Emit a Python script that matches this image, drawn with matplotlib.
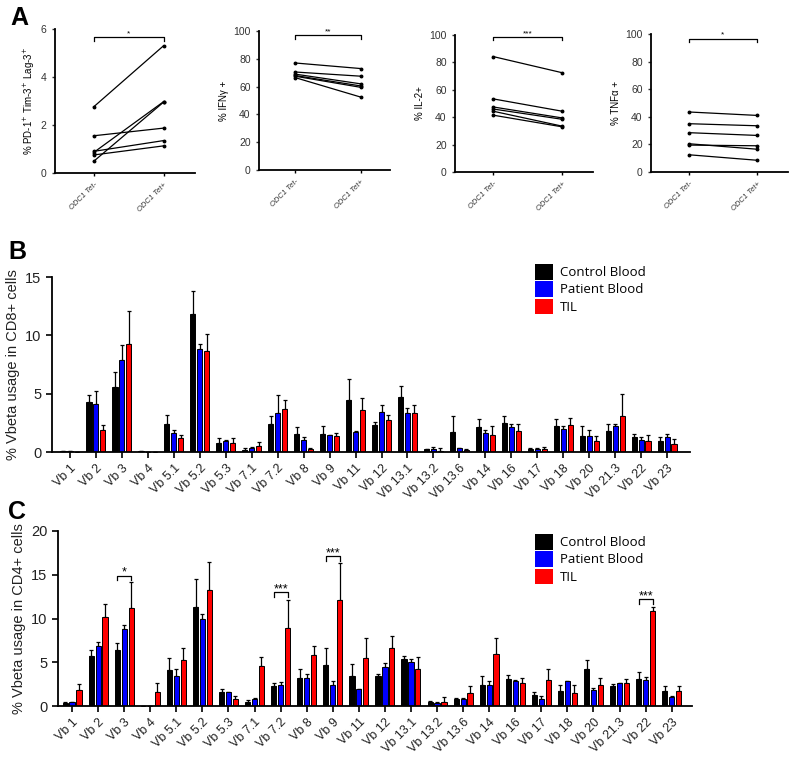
import numpy as np
import matplotlib
matplotlib.use("Agg")
import matplotlib.pyplot as plt
from matplotlib.patches import Patch

plt.rcParams['font.family'] = ['Liberation Sans', 'DejaVu Sans']

# ---- panel A : paired Tet- / Tet+ values (6 donors) ----
groups_a = ["ODC1 Tet-", "ODC1 Tet+"]
pd1_neg = [2.75, 1.55, 0.9, 0.85, 0.75, 0.48]
pd1_pos = [5.3, 1.87, 1.35, 2.97, 1.13, 2.95]
ifng_neg = [77, 70.5, 69, 68, 67.5, 66.5]
ifng_pos = [73, 67.5, 62, 60.5, 59.5, 52.5]
il2_neg = [84.3, 53.4, 47.5, 46, 44.4, 41.5]
il2_pos = [72.5, 44.4, 39.5, 38.5, 33.5, 33]
tnf_neg = [43.5, 35, 28.5, 20.5, 19.5, 12.5]
tnf_pos = [41, 33.5, 26.5, 16.5, 19, 8.5]

# ---- panels B/C : Vbeta usage ----
vb_labels = ["Vb 1", "Vb 2", "Vb 3", "Vb 4", "Vb 5.1", "Vb 5.2", "Vb 5.3", "Vb 7.1",
             "Vb 7.2", "Vb 8", "Vb 9", "Vb 11", "Vb 12", "Vb 13.1", "Vb 13.2", "Vb 13.6",
             "Vb 14", "Vb 16", "Vb 17", "Vb 18", "Vb 20", "Vb 21.3", "Vb 22", "Vb 23"]
series_names = ["Control Blood", "Patient Blood", "TIL"]

cd8_control = [0.05, 4.3, 5.6, 0.05, 2.4, 11.8, 0.77, 0.2, 2.4, 1.57, 1.57, 4.43,
               2.34, 4.71, 0.23, 1.71, 2.11, 2.51, 0.23, 2.2, 1.37, 1.77, 1.29, 0.94]
cd8_control_sem = [0.02, 0.6, 1.3, 0.0, 0.8, 2.0, 0.43, 0.15, 0.7, 0.57, 0.63, 1.87,
                   0.26, 0.99, 0.05, 1.35, 0.72, 0.55, 0.1, 0.6, 0.86, 0.6, 0.28, 0.35]
cd8_patient = [0.05, 4.09, 7.86, 0.0, 1.66, 8.86, 0.94, 0.37, 3.34, 1.06, 1.43, 1.71,
               3.43, 3.34, 0.23, 0.31, 1.66, 2.11, 0.23, 1.97, 1.37, 2.2, 1.06, 1.29]
cd8_patient_sem = [0.02, 1.11, 1.34, 0.0, 0.24, 0.44, 0.11, 0.06, 1.56, 0.24, 0.07, 0.06,
                   0.57, 0.43, 0.2, 0.03, 0.24, 0.29, 0.12, 0.23, 0.53, 0.17, 0.23, 0.28]
cd8_til = [0.0, 1.86, 9.29, 0.0, 1.2, 8.66, 0.77, 0.49, 3.69, 0.23, 1.37, 3.57,
           2.71, 3.34, 0.1, 0.17, 1.49, 1.77, 0.23, 2.31, 0.94, 3.06, 0.94, 0.66]
cd8_til_sem = [0.0, 0.44, 2.81, 0.0, 0.3, 1.44, 0.43, 0.37, 0.81, 0.11, 0.29, 1.03,
               0.43, 0.66, 0.24, 0.05, 0.74, 0.63, 0.17, 0.63, 0.43, 1.94, 0.55, 0.48]

cd4_control = [0.38, 5.74, 6.39, 0.05, 4.07, 11.29, 1.56, 0.49, 2.28, 3.16, 4.64, 3.42,
               3.42, 5.32, 0.49, 0.8, 2.43, 3.12, 1.25, 1.71, 4.18, 2.28, 3.08, 1.71]
cd4_control_sem = [0.12, 0.65, 0.76, 0.0, 1.37, 3.27, 0.44, 0.19, 0.31, 1.06, 1.94, 1.33,
                   0.23, 0.38, 0.08, 0.07, 1.03, 0.42, 0.38, 0.69, 1.07, 0.23, 0.84, 0.57]
cd4_patient = [0.42, 6.84, 8.78, 0.0, 3.46, 9.89, 1.56, 0.76, 2.4, 3.23, 2.4, 1.9,
               4.49, 5.06, 0.38, 0.8, 2.43, 2.85, 0.84, 2.81, 1.83, 2.59, 2.93, 1.06]
cd4_patient_sem = [0.05, 0.5, 0.52, 0.0, 0.74, 0.57, 0.0, 0.11, 0.3, 0.42, 0.45, 0.08,
                   0.38, 0.3, 0.04, 0.07, 0.42, 0.12, 0.34, 0.08, 0.26, 0.07, 0.34, 0.08]
cd4_til = [1.79, 10.19, 11.25, 1.6, 5.25, 13.23, 0.84, 4.6, 8.97, 5.78, 12.09, 5.44,
           6.58, 4.22, 0.46, 1.44, 6.0, 2.66, 2.97, 1.52, 2.4, 2.66, 10.87, 1.71]
cd4_til_sem = [0.68, 1.51, 2.95, 0.98, 1.33, 3.27, 0.3, 1.03, 3.2, 1.1, 4.3, 2.35,
               1.44, 1.41, 0.53, 0.84, 1.72, 0.57, 1.25, 0.88, 0.83, 0.38, 0.46, 0.57]

# significance in C: (category, bracket height, label)
cd4_sig = [("Vb 3", 14.9, "*"), ("Vb 7.2", 13.0, "***"), ("Vb 9", 17.1, "***"), ("Vb 22", 12.2, "***")]

colors = ["#000000", "#0000ff", "#ff0000"]

fig = plt.figure(figsize=(8, 7.65), dpi=100)
W, H = 800.0, 765.0


def px_axes(left, top, right, bottom):
    return fig.add_axes([left / W, 1 - bottom / H, (right - left) / W, (bottom - top) / H])


def style(ax):
    for s in ["top", "right"]:
        ax.spines[s].set_visible(False)
    for s in ["left", "bottom"]:
        ax.spines[s].set_linewidth(1.3)


def paired(ax, neg, pos, ymax, yticks, ylabel, ybr, star):
    style(ax)
    for a, b in zip(neg, pos):
        ax.plot([0, 1], [a, b], color="black", lw=0.9, marker="o", ms=1.8)
    ax.set_xlim(-0.55, 1.45)
    ax.set_ylim(0, ymax)
    ax.set_yticks(yticks)
    ax.set_xticks([0, 1])
    ax.set_xticklabels(groups_a, rotation=45, ha="right", rotation_mode="anchor",
                       fontsize=5.5, color="#333333", style="italic")
    ax.tick_params(axis="y", labelsize=7.5, length=2.5, width=1, colors="#333333")
    ax.tick_params(axis="x", length=2.5, width=1)
    ax.set_ylabel(ylabel, fontsize=7, labelpad=3)
    d = ymax * 0.025
    ax.plot([0, 0, 1, 1], [ybr - d, ybr, ybr, ybr - d], color="black", lw=0.9, clip_on=False)
    ax.text(0.5, ybr, star, ha="center", va="bottom", fontsize=6)


axA1 = px_axes(55, 29, 195, 173)
paired(axA1, pd1_neg, pd1_pos, 6, [0, 2, 4, 6], "% PD-1$^{+}$ Tim-3$^{+}$ Lag-3$^{+}$", 5.65, "*")
axA2 = px_axes(259, 31, 390, 170)
paired(axA2, ifng_neg, ifng_pos, 100, range(0, 101, 20), "% IFN\u03b3 +", 97, "**")
axA3 = px_axes(455, 35, 593, 172)
paired(axA3, il2_neg, il2_pos, 100, range(0, 101, 20), "% IL-2+", 98.5, "***")
axA4 = px_axes(651, 34, 788, 172)
paired(axA4, tnf_neg, tnf_pos, 100, range(0, 101, 20), "% TNF\u03b1 +", 96.5, "*")

bw = 0.2
offs = [-0.265, 0.0, 0.265]


def bars(ax, vals, sems, ymax, yticks, ylabel, xlim):
    style(ax)
    x = np.arange(len(vb_labels))
    for k in range(3):
        v = np.array(vals[k])
        e = np.array(sems[k])
        ax.bar(x + offs[k], v, bw, color=colors[k], edgecolor="black", linewidth=0.7,
               label=series_names[k], zorder=2)
        ax.errorbar(x + offs[k], v, yerr=[np.zeros_like(e), e], fmt="none", ecolor="black",
                    elinewidth=0.9, capsize=1.5, capthick=0.9, zorder=1)
    ax.set_xlim(*xlim)
    ax.set_ylim(0, ymax)
    ax.set_yticks(yticks)
    ax.set_xticks(x)
    ax.set_xticklabels(vb_labels, rotation=45, ha="right", rotation_mode="anchor",
                       fontsize=9, color="#222222")
    ax.tick_params(axis="y", labelsize=10.5, length=4, width=1.2, labelcolor="#222222")
    ax.tick_params(axis="x", length=4, width=1.2)
    ax.set_ylabel(ylabel, fontsize=10.5, labelpad=4, color="#222222")
    return x


axB = px_axes(52, 277, 690, 452)
bars(axB, [cd8_control, cd8_patient, cd8_til], [cd8_control_sem, cd8_patient_sem, cd8_til_sem],
     15, [0, 5, 10, 15], "% Vbeta usage in CD8+ cells", (-0.69, 23.88))

axC = px_axes(58, 531, 692, 706)
xc = bars(axC, [cd4_control, cd4_patient, cd4_til], [cd4_control_sem, cd4_patient_sem, cd4_til_sem],
          20, [0, 5, 10, 15, 20], "% Vbeta usage in CD4+ cells", (-0.54, 23.78))
for cat, yb, lab in cd4_sig:
    i = vb_labels.index(cat)
    x0, x1 = i + offs[0], i + offs[2]
    axC.plot([x0, x0, x1, x1], [yb - 0.5, yb, yb, yb - 0.5], color="black", lw=0.9)
    axC.text((x0 + x1) / 2, yb - 0.35, lab, ha="center", va="bottom", fontsize=9)

handles = [Patch(facecolor=c, edgecolor="none") for c in colors]
for top in (264, 534):
    fig.legend(handles, series_names, loc="upper left", bbox_to_anchor=(535 / W, 1 - top / H),
               frameon=False, handlelength=1.4, handleheight=1.45,
               handletextpad=0.5, labelspacing=0.12, borderpad=0, borderaxespad=0,
               prop={"family": ["Open Sans", "DejaVu Sans"], "size": 9.5})

for lab, (xp, yp) in zip("ABC", [(10, 6), (8, 240), (8, 500)]):
    fig.text(xp / W, 1 - yp / H, lab, fontsize=18, fontweight="bold", va="top", ha="left")

fig.savefig("out.png", dpi=100)
